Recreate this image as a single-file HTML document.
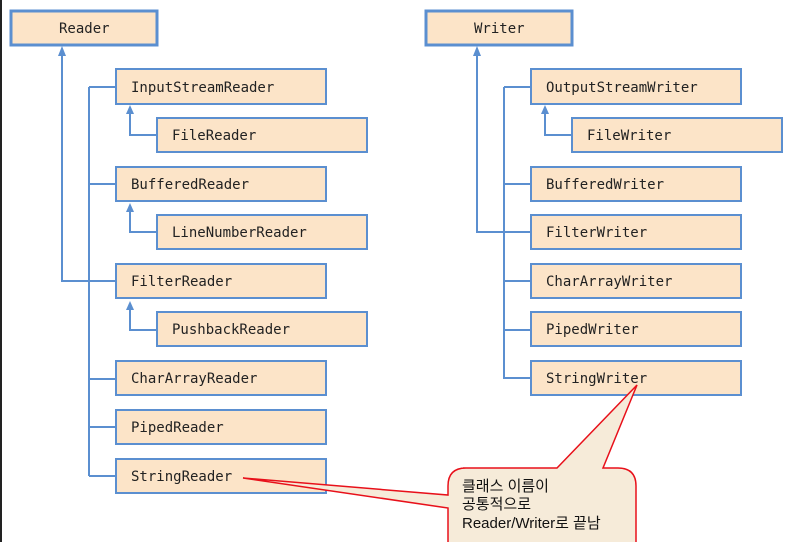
<!DOCTYPE html>
<html><head><style>body{margin:0;background:#fff;}svg{display:block}</style></head><body>
<svg width="788" height="542" xmlns="http://www.w3.org/2000/svg">
<rect x="0" y="0" width="2" height="542" fill="#222"/>
<g fill="none" stroke="#5b8fd0" stroke-width="2">
<path d="M62,50 V281 H116"/>
<path d="M89,87 V476 M89,87 H116 M89,184 H116 M89,379 H116 M89,427 H116 M89,476 H116"/>
<path d="M130,108 V135 H157 M130,206 V232 H157 M130,304 V330 H157"/>
<path d="M477,50 V232 H531"/>
<path d="M504,87 V378 H531 M504,87 H531 M504,184 H531 M504,281 H531 M504,330 H531"/>
<path d="M545,108 V135 H572"/>
</g>
<g fill="#5b8fd0">
<path d="M62,46 l-4,10 h8z"/><path d="M477,46 l-4,10 h8z"/>
<path d="M130,105 l-4,9 h8z"/><path d="M130,203 l-4,9 h8z"/><path d="M130,301 l-4,9 h8z"/><path d="M545,105 l-4,9 h8z"/>
</g>
<g fill="#fce4c8" stroke="#5b8fd0" stroke-width="2">
<rect x="11" y="11" width="146" height="34" stroke-width="3"/>
<rect x="426" y="11" width="146" height="34" stroke-width="3"/>
<rect x="116" y="69" width="210" height="35"/><rect x="157" y="118" width="210" height="34"/>
<rect x="116" y="167" width="210" height="34"/><rect x="157" y="215" width="210" height="34"/>
<rect x="116" y="264" width="210" height="34"/><rect x="157" y="312" width="210" height="34"/>
<rect x="116" y="361" width="210" height="34"/><rect x="116" y="410" width="210" height="34"/>
<rect x="116" y="459" width="210" height="34"/>
<rect x="531" y="69" width="210" height="35"/><rect x="572" y="118" width="210" height="34"/>
<rect x="531" y="167" width="210" height="34"/><rect x="531" y="215" width="210" height="34"/>
<rect x="531" y="264" width="210" height="34"/><rect x="531" y="312" width="210" height="34"/>
<rect x="531" y="361" width="210" height="34"/>
</g>
<g font-family="'DejaVu Sans Mono','Liberation Mono',monospace" font-size="14" fill="#222">
<text x="59" y="33">Reader</text><text x="474" y="33">Writer</text>
<text x="131" y="92">InputStreamReader</text><text x="172" y="140">FileReader</text>
<text x="131" y="189">BufferedReader</text><text x="172" y="237">LineNumberReader</text>
<text x="131" y="286">FilterReader</text><text x="172" y="334">PushbackReader</text>
<text x="131" y="383">CharArrayReader</text><text x="131" y="432">PipedReader</text>
<text x="131" y="481">StringReader</text>
<text x="546" y="92">OutputStreamWriter</text><text x="587" y="140">FileWriter</text>
<text x="546" y="189">BufferedWriter</text><text x="546" y="237">FilterWriter</text>
<text x="546" y="286">CharArrayWriter</text><text x="546" y="334">PipedWriter</text>
<text x="546" y="383">StringWriter</text>
</g>
<path d="M463,468 H557 L637,385 L603,468 H618 Q636,468 636,486 V560 H448 V508 L243,478 L448,495 V486 Q448,468 466,468 Z" fill="#f6ebd9" stroke="#e8101a" stroke-width="1.5"/>
<g font-family="'Liberation Sans','Noto Sans CJK KR',sans-serif" font-size="15" fill="#111">
<text x="462" y="491">클래스 이름이</text><text x="462" y="509">공통적으로</text><text x="462" y="528">Reader/Writer로 끝남</text>
</g>
</svg>
</body></html>
